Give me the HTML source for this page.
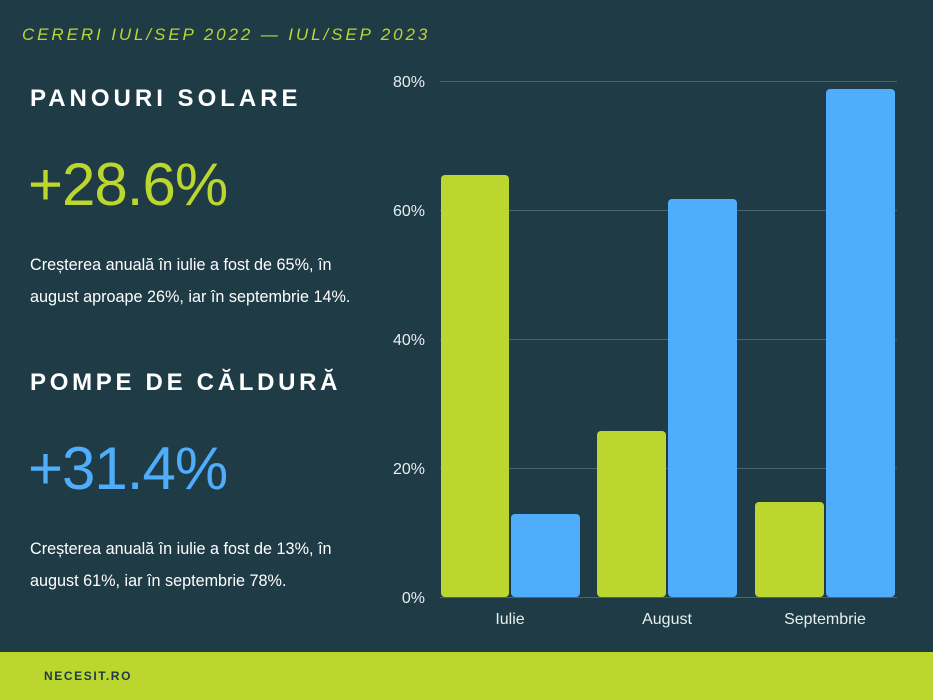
<!DOCTYPE html>
<html><head><meta charset="utf-8"><style>
body{margin:0;width:933px;height:700px;background:#1f3b46;position:relative;overflow:hidden;font-family:"Liberation Sans",sans-serif;}
.a{position:absolute;white-space:nowrap}
</style></head><body>
<div class="a" style="left:22px;top:25px;font-size:17px;font-style:italic;letter-spacing:2.9px;color:#bcd630">CERERI IUL/SEP 2022 — IUL/SEP 2023</div>
<div class="a" style="left:30px;top:85px;font-size:24px;font-weight:bold;letter-spacing:4px;color:#fff">PANOURI SOLARE</div>
<div class="a" style="left:28px;top:150px;font-size:60px;color:#bcd630;letter-spacing:-1px">+28.6%</div>
<div class="a" style="left:30px;top:249px;font-size:16.2px;line-height:32px;color:#fff">Creșterea anuală în iulie a fost de 65%, în<br>august aproape 26%, iar în septembrie 14%.</div>
<div class="a" style="left:30px;top:369px;font-size:24px;font-weight:bold;letter-spacing:3.7px;color:#fff">POMPE DE CĂLDURĂ</div>
<div class="a" style="left:28px;top:434px;font-size:60px;color:#4fadfc;letter-spacing:-1px">+31.4%</div>
<div class="a" style="left:30px;top:533px;font-size:16.2px;line-height:32px;color:#fff">Creșterea anuală în iulie a fost de 13%, în<br>august 61%, iar în septembrie 78%.</div>
<svg class="a" style="left:0;top:0" width="933" height="700">
<g stroke="#4b6570" stroke-width="1">
<line x1="440" x2="897" y1="81.5" y2="81.5"/><line x1="440" x2="897" y1="210.5" y2="210.5"/><line x1="440" x2="897" y1="339.5" y2="339.5"/><line x1="440" x2="897" y1="468.5" y2="468.5"/><line x1="440" x2="897" y1="597.5" y2="597.5"/>
</g>
<g font-family="Liberation Sans" font-size="16" fill="#e8eef0" text-anchor="end">
<text x="425" y="87">80%</text><text x="425" y="216">60%</text><text x="425" y="345">40%</text><text x="425" y="474">20%</text><text x="425" y="603">0%</text>
</g>
<g fill="#bcd630"><rect x="441" y="175" width="68" height="422" rx="4"/><rect x="597" y="431" width="69" height="166" rx="4"/><rect x="755" y="502" width="69" height="95" rx="4"/></g>
<g fill="#4fadfc"><rect x="511" y="514" width="69" height="83" rx="4"/><rect x="668" y="199" width="69" height="398" rx="4"/><rect x="826" y="89" width="69" height="508" rx="4"/></g>
<g font-family="Liberation Sans" font-size="16" fill="#e8eef0" text-anchor="middle">
<text x="510" y="624">Iulie</text><text x="667" y="624">August</text><text x="825" y="624">Septembrie</text>
</g>
<rect x="0" y="652" width="933" height="48" fill="#bcd630"/>
<text x="44" y="680" font-family="Liberation Sans" font-size="12" font-weight="bold" letter-spacing="1.6" fill="#1f3b46">NECESIT.RO</text>
</svg>
</body></html>
